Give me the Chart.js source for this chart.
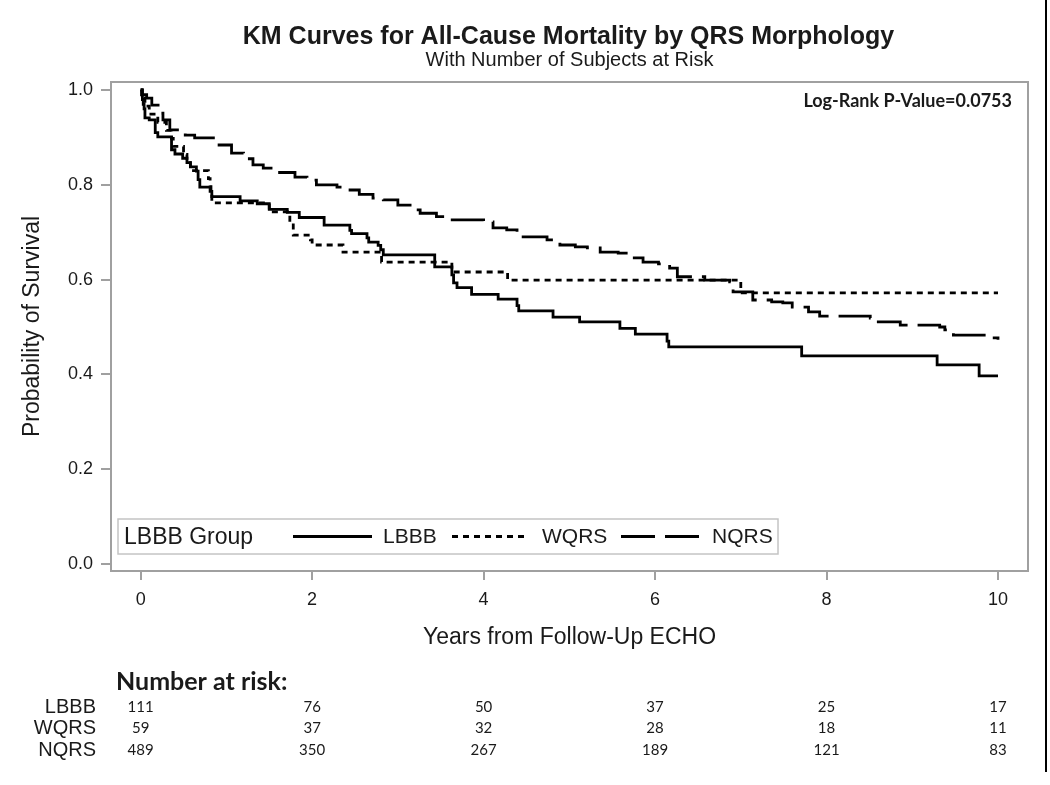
<!DOCTYPE html>
<html>
<head>
<meta charset="utf-8">
<script src="https://cdn.jsdelivr.net/npm/chart.js@4"></script>
<style>
  html, body { margin: 0; padding: 0; background: #fff; }
  #wrap { position: relative; width: 1050px; height: 785px; }
  #edge { position: absolute; left: 1045px; top: 0; width: 2px; height: 772px; background: #000; }
</style>
</head>
<body>
<div id="wrap">
  <canvas id="c" width="1050" height="785"></canvas>
  <div id="edge"></div>
</div>
<script>
// ---------- DATA ----------
const groupNames = ['LBBB', 'WQRS', 'NQRS'];

const lbbbTime = [0, 0.01, 0.02, 0.03, 0.04, 0.05, 0.10, 0.17, 0.20, 0.36, 0.40, 0.49, 0.54, 0.58, 0.65, 0.67, 0.69, 0.81, 0.83, 1.16, 1.36, 1.50, 1.71, 1.85, 2.14, 2.44, 2.46, 2.64, 2.66, 2.77, 2.80, 2.83, 3.43, 3.63, 3.65, 3.69, 3.86, 4.17, 4.39, 4.41, 4.81, 5.12, 5.59, 5.77, 6.14, 6.16, 7.71, 9.29, 9.78, 10.0];
const lbbbSurv = [1.0, 0.99, 0.98, 0.97, 0.96, 0.941, 0.937, 0.91, 0.901, 0.874, 0.865, 0.856, 0.847, 0.838, 0.829, 0.811, 0.795, 0.786, 0.775, 0.766, 0.760, 0.748, 0.742, 0.731, 0.715, 0.704, 0.697, 0.688, 0.679, 0.672, 0.663, 0.652, 0.627, 0.610, 0.593, 0.583, 0.569, 0.559, 0.545, 0.534, 0.521, 0.511, 0.497, 0.485, 0.470, 0.458, 0.439, 0.420, 0.397, 0.397];

const wqrsTime = [0, 0.02, 0.05, 0.10, 0.20, 0.30, 0.36, 0.38, 0.50, 0.54, 0.58, 0.79, 0.81, 0.82, 0.83, 1.50, 1.74, 1.78, 1.98, 2.00, 2.36, 2.81, 3.63, 4.28, 7.00, 10.0];
const wqrsSurv = [1.0, 0.983, 0.966, 0.949, 0.932, 0.915, 0.898, 0.881, 0.864, 0.847, 0.830, 0.813, 0.796, 0.779, 0.762, 0.743, 0.719, 0.694, 0.684, 0.673, 0.658, 0.637, 0.616, 0.599, 0.572, 0.572];

const nqrsTime = [0, 0.02, 0.07, 0.13, 0.23, 0.26, 0.34, 0.52, 0.63, 0.89, 1.06, 1.20, 1.31, 1.43, 1.60, 1.80, 1.94, 2.05, 2.29, 2.40, 2.55, 2.71, 2.83, 3.00, 3.18, 3.26, 3.45, 3.61, 4.00, 4.11, 4.27, 4.39, 4.74, 4.89, 5.07, 5.21, 5.36, 5.57, 5.71, 5.86, 6.04, 6.17, 6.26, 6.58, 6.87, 6.91, 7.14, 7.36, 7.49, 7.60, 7.79, 7.92, 8.51, 8.54, 8.86, 9.32, 9.38, 9.48, 9.87, 10.0];
const nqrsSurv = [1.0, 0.99, 0.983, 0.968, 0.951, 0.937, 0.916, 0.905, 0.899, 0.884, 0.867, 0.855, 0.842, 0.835, 0.826, 0.816, 0.810, 0.800, 0.795, 0.789, 0.780, 0.772, 0.768, 0.757, 0.747, 0.740, 0.733, 0.726, 0.722, 0.709, 0.705, 0.690, 0.684, 0.673, 0.669, 0.667, 0.658, 0.656, 0.646, 0.637, 0.633, 0.624, 0.606, 0.599, 0.595, 0.574, 0.557, 0.553, 0.551, 0.542, 0.532, 0.523, 0.519, 0.511, 0.504, 0.500, 0.494, 0.483, 0.477, 0.473];

const xTickValues = [0, 2, 4, 6, 8, 10];
const yTickValues = [0.0, 0.2, 0.4, 0.6, 0.8, 1.0];

const riskLbbb = [111, 76, 50, 37, 25, 17];
const riskWqrs = [59, 37, 32, 28, 18, 11];
const riskNqrs = [489, 350, 267, 189, 121, 83];

const titleText = 'KM Curves for All-Cause Mortality by QRS Morphology';
const subtitleText = 'With Number of Subjects at Risk';
const pValueText = 'Log-Rank P-Value=0.0753';
const legendTitle = 'LBBB Group';
const xTitle = 'Years from Follow-Up ECHO';
const yTitle = 'Probability of Survival';
const riskHeader = 'Number at risk:';

// ---------- STYLES ----------
const SANS = '"Liberation Sans", Arial, sans-serif';
const CAL = 'Lato, "Open Sans", sans-serif';
const TXT = '#1a1a1a';
const FRAME = '#a0a0a0';
const dashes = [[], [6, 5], [34, 10]];

function pts(t, s) { return t.map((v, i) => ({ x: v, y: s[i] })); }

const datasets = [
  { label: groupNames[0], data: pts(lbbbTime, lbbbSurv), borderDash: dashes[0] },
  { label: groupNames[1], data: pts(wqrsTime, wqrsSurv), borderDash: dashes[1] },
  { label: groupNames[2], data: pts(nqrsTime, nqrsSurv), borderDash: dashes[2] }
].map(d => Object.assign(d, {
  borderColor: '#000', borderWidth: 2.8, pointRadius: 0, stepped: true,
  fill: false, tension: 0, borderCapStyle: 'butt', borderJoinStyle: 'miter'
}));

const overlay = {
  id: 'overlay',
  beforeDatasetsDraw(chart) {
    const { ctx, chartArea: a } = chart;
    ctx.save();
    ctx.strokeStyle = FRAME;
    ctx.lineWidth = 2;
    ctx.strokeRect(a.left, a.top, a.right - a.left, a.bottom - a.top);
    ctx.restore();
  },
  afterDraw(chart) {
    const { ctx, chartArea: a } = chart;
    const xs = chart.scales.x;
    const cx = (a.left + a.right) / 2;
    ctx.save();
    ctx.fillStyle = TXT;
    ctx.textBaseline = 'middle';
    // titles
    ctx.textAlign = 'center';
    ctx.font = 'bold 25px ' + SANS;
    ctx.fillText(titleText, cx - 1, 37);
    ctx.font = '20px ' + SANS;
    ctx.fillText(subtitleText, cx, 60);
    // p-value
    ctx.textAlign = 'right';
    ctx.font = 'bold 18px ' + CAL;
    ctx.fillText(pValueText, a.right - 16, 101);
    // legend box
    const lx = 118, ly = 519, lw = 660, lh = 35;
    ctx.fillStyle = '#fff';
    ctx.fillRect(lx, ly, lw, lh);
    ctx.strokeStyle = '#c4c4c4';
    ctx.lineWidth = 1.5;
    ctx.strokeRect(lx, ly, lw, lh);
    ctx.fillStyle = TXT;
    ctx.textAlign = 'left';
    const my = ly + lh / 2 + 1;
    ctx.font = '23px ' + SANS;
    ctx.fillText(legendTitle, 124, my);
    ctx.font = '21px ' + SANS;
    const items = [[293, 372, 383], [452, 528, 542], [621, 700, 712]];
    items.forEach((it, i) => {
      ctx.save();
      ctx.strokeStyle = '#000';
      ctx.lineWidth = 2.8;
      ctx.setLineDash(dashes[i]);
      ctx.beginPath();
      ctx.moveTo(it[0], my - 1);
      ctx.lineTo(it[1], my - 1);
      ctx.stroke();
      ctx.restore();
      ctx.fillText(groupNames[i], it[2], my);
    });
    // number at risk
    ctx.font = 'bold 25px ' + CAL;
    ctx.textAlign = 'left';
    ctx.fillText(riskHeader, 116, 682);
    const rows = [riskLbbb, riskWqrs, riskNqrs];
    const rowY = [707, 728, 750];
    rows.forEach((r, i) => {
      ctx.font = '20px ' + SANS;
      ctx.textAlign = 'right';
      ctx.fillText(groupNames[i], 96, rowY[i]);
      ctx.font = '15px ' + CAL;
      ctx.textAlign = 'center';
      r.forEach((v, j) => ctx.fillText(String(v), xs.getPixelForValue(xTickValues[j]), rowY[i]));
    });
    ctx.restore();
  }
};

new Chart(document.getElementById('c'), {
  type: 'line',
  data: { datasets },
  plugins: [overlay],
  options: {
    responsive: false,
    animation: false,
    events: [],
    layout: { padding: { left: 0, top: 82, right: 22, bottom: 0 } },
    plugins: { legend: { display: false }, tooltip: { enabled: false }, title: { display: false } },
    scales: {
      x: {
        type: 'linear', min: -0.346, max: 10.35,
        afterBuildTicks: s => { s.ticks = xTickValues.map(v => ({ value: v })); },
        afterFit: s => { s.height = 214; },
        grid: { drawOnChartArea: false, drawTicks: true, tickLength: 9, color: FRAME, lineWidth: 2 },
        border: { display: false },
        ticks: { color: TXT, font: { family: SANS, size: 18 }, padding: 9, maxRotation: 0, autoSkip: false, callback: v => String(v) },
        title: { display: true, text: xTitle, color: TXT, font: { family: SANS, size: 23 }, padding: { top: 0, bottom: 134 } }
      },
      y: {
        type: 'linear', min: -0.0148, max: 1.0169,
        afterBuildTicks: s => { s.ticks = yTickValues.map(v => ({ value: v })); },
        afterFit: s => { s.width = 111; },
        grid: { drawOnChartArea: false, drawTicks: true, tickLength: 10, color: FRAME, lineWidth: 2 },
        border: { display: false },
        ticks: { color: TXT, font: { family: SANS, size: 18 }, padding: 8, autoSkip: false, callback: v => Number(v).toFixed(1) },
        title: { display: true, text: yTitle, color: TXT, font: { family: SANS, size: 23 }, padding: { top: 19, bottom: 0 } }
      }
    }
  }
});
</script>
</body>
</html>
